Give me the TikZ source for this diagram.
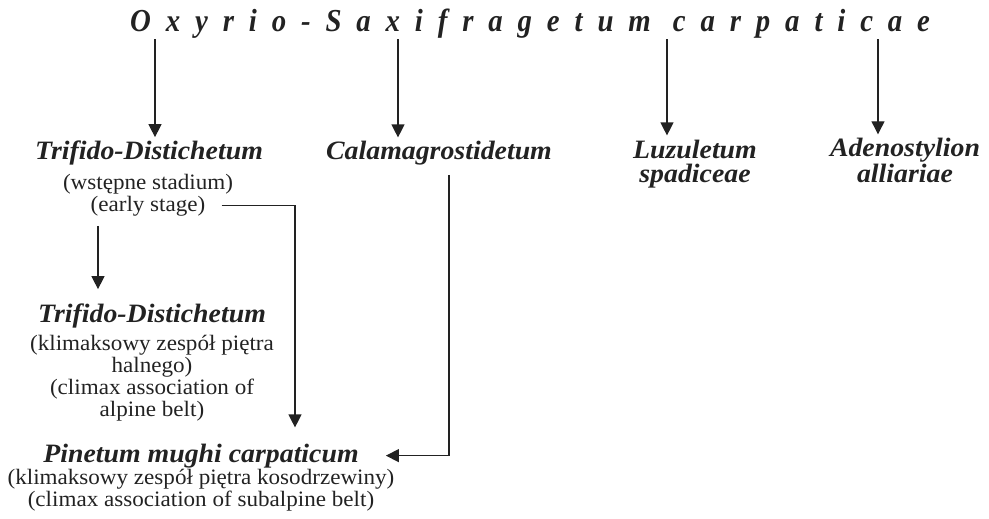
\documentclass[tikz,border=0pt]{standalone}
\usepackage{fontspec}
\setmainfont{Liberation Serif}[FakeStretch=1.05]
\newfontfamily\titlefont{Liberation Serif}[FakeStretch=0.9, LetterSpace=46.5]
\usepackage{tikz}
\usetikzlibrary{arrows.meta, positioning, calc}
\definecolor{InkGray}{HTML}{222222}

\tikzset{
  taxon/.style={font=\fontsize{26.5}{24}\selectfont\bfseries\itshape, align=center, inner xsep=0pt, inner ysep=4pt, text=InkGray},
  note/.style={font=\fontsize{22}{22}\selectfont, align=center, inner sep=0pt, text=InkGray},
  arr/.style={->, color=InkGray, line width=1.2pt}
}

\begin{document}
\begin{tikzpicture}[x=1pt, y=-1pt, >={Triangle[length=13pt, width=13pt]}]
  \useasboundingbox (0,0) rectangle (989,519);

  % 1. Title association
  \node[anchor=base west, inner sep=0pt, text=InkGray, font=\titlefont\fontsize{32}{32}\selectfont\bfseries\itshape]
    (title) at (130,32) {Oxyrio-Saxifragetum carpaticae};

  % 2. First row of associations (base = last line)
  \node[taxon, anchor=base] (tri1) at (149,160) {Trifido-Distichetum};
  \node[note, anchor=base] (stage) at (148,189) {(wstępne stadium)};
  \node[note, anchor=base] (early) at (148,211) {(early stage)};
  \node[taxon, anchor=base] (cal) at (439,160) {Calamagrostidetum};
  \node[taxon, anchor=base] (luz) at (695,182) {Luzuletum\\spadiceae};
  \node[taxon, anchor=base] (ade) at (905,182) {Adenostylion\\alliariae};

  % 3. Climax of the alpine belt
  \node[taxon, anchor=base] (tri2) at (152,322) {Trifido-Distichetum};
  \node[note, anchor=base] (alpine) at (152,416)
    {(klimaksowy zespół piętra\\halnego)\\(climax association of\\alpine belt)};

  % 4. Climax of the subalpine belt
  \node[taxon, anchor=base] (pin) at (201,462) {Pinetum mughi carpaticum};
  \node[note, anchor=base] (subalp) at (201,506)
    {(klimaksowy zespół piętra kosodrzewiny)\\(climax association of subalpine belt)};

  % -------------------------------------------------------------
  % ARROWS
  % -------------------------------------------------------------
  \coordinate (a1) at ([xshift=25pt]title.south west);
  \coordinate (a2) at ([xshift=268pt]title.south west);
  \coordinate (a3) at ([xshift=537pt]title.south west);
  \coordinate (a4) at ([xshift=748pt]title.south west);
  \draw[arr] (a1) -- (a1 |- tri1.north);
  \draw[arr] (a2) -- (a2 |- cal.north);
  \draw[arr] (a3) -- (a3 |- luz.north);
  \draw[arr] (a4) -- (a4 |- ade.north);

  % early stage -> climax of alpine belt
  \coordinate (d1) at ([xshift=-50pt, yshift=-10pt]early.south);
  \draw[arr, shorten >=10pt] (d1) -- (d1 |- tri2.north);

  % early stage -> Pinetum
  \draw[arr, shorten >=12pt] ([xshift=16pt]early.east) -| ([xshift=94pt]pin.north);

  % Calamagrostidetum -> Pinetum
  \draw[arr] ([xshift=10pt, yshift=-5pt]cal.south) |- ([xshift=27pt]pin.east);
\end{tikzpicture}
\end{document}
